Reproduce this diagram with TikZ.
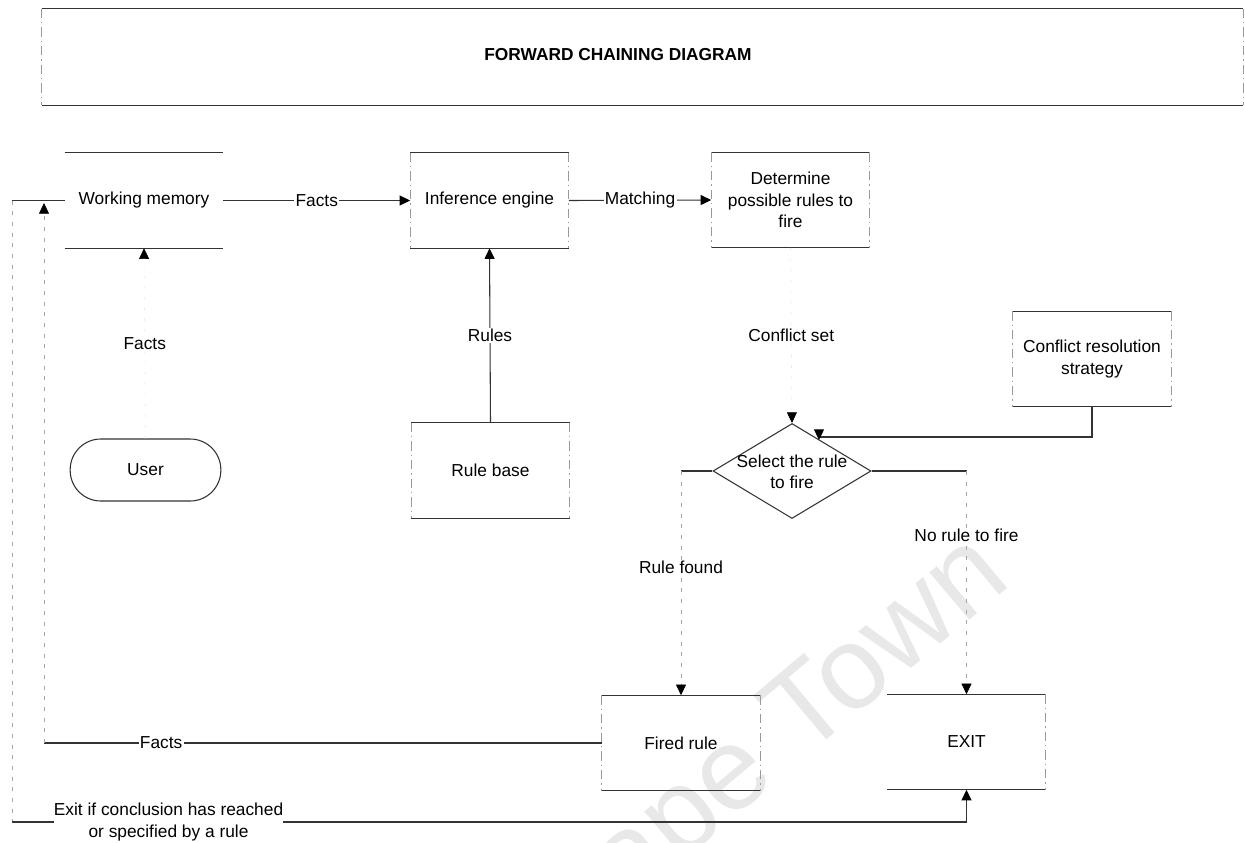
\documentclass[tikz,border=0pt]{standalone}
\usepackage{fontspec}
\setmainfont{Liberation Sans}
\usetikzlibrary{arrows.meta,shapes.geometric,calc}

% top and bottom edges of a block, and its two sides
\newcommand\blocktb[1]{\draw[edge] (#1.north west) -- (#1.north east) (#1.south west) -- (#1.south east);}
\newcommand\blocklr[1]{\draw[side] (#1.north west) -- (#1.south west) (#1.north east) -- (#1.south east);}

\begin{document}
\begin{tikzpicture}[x=0.75pt,y=-0.75pt,
  every node/.style={font=\fontsize{13}{16}\selectfont},
  blk/.style={minimum width=118.5pt, minimum height=71.25pt, inner sep=0pt, align=center},
  edge/.style={draw=black!80, line width=0.8pt},
  side/.style={draw=black!40, line width=0.6pt, dash pattern=on 7pt off 3pt on 1pt off 3pt},
  faint/.style={draw=black!35, line width=0.6pt, dash pattern=on 3pt off 5pt},
  ghost/.style={draw=black!8, line width=0.5pt, dash pattern=on 2pt off 6pt},
  tip/.style={-{Triangle[width=7.5pt,length=8pt,color=black]}},
  lbl/.style={fill=white, inner sep=1pt},
]
\useasboundingbox (0,0) rectangle (1245,842);

% background watermark
\begin{scope}
  \clip (0,0) rectangle (1245,842);
  \node[rotate=40, text=black!9, font=\fontsize{88}{88}\selectfont] (wmark) at (770,750) {Cape Town};
\end{scope}

% title frame
\node[minimum width=900.75pt, minimum height=72pt, inner sep=0pt] (tframe) at (642.5,57) {};
\blocktb{tframe}
\blocklr{tframe}
\node[font=\bfseries\fontsize{13}{16}\selectfont] (title) at (618,55) {FORWARD CHAINING DIAGRAM};

% blocks
\node[blk] (wm)    at (144,200.5) {Working memory};
\node[blk] (ie)    at (489.5,200.5) {Inference engine};
\node[blk] (det)   at (790.5,200) {Determine\\possible rules to\\fire};
\node[blk] (rb)    at (490.5,470.5) {Rule base};
\node[blk] (crs)   at (1092,359) {Conflict resolution\\strategy};
\node[blk] (fired) at (681,743) {Fired rule};
\node[blk] (exit)  at (966.5,742) {EXIT};
\node[draw=black!80, line width=0.8pt, rounded corners=23pt, minimum width=113pt,
      minimum height=46.5pt] (user) at (145.5,470) {User};
\node[diamond, draw=black!80, line width=0.8pt, minimum width=118.5pt, minimum height=71.25pt,
      inner sep=0pt] (sel) at (792,471) {};
\node[align=center, inner sep=0pt] (seltxt) at (792,472) {Select the rule\\to fire};

\blocktb{wm}
\blocktb{ie}  \blocklr{ie}
\blocktb{det} \blocklr{det}
\blocktb{rb}  \blocklr{rb}
\blocktb{crs} \blocklr{crs}
\blocktb{fired} \blocklr{fired}
\blocktb{exit}
\draw[side] (exit.north east) -- (exit.south east);

% connectors along the top row
\draw[edge,tip] (wm.east) -- node[lbl] {Facts} (ie.west);
\draw[edge,tip] (ie.east) -- node[lbl] {Matching} (det.west);
\draw[edge,tip] (rb.north) -- node[lbl] {Rules} (ie.south);
\draw[ghost,tip] (user.north) -- node[lbl] {Facts} (wm.south);
\draw[ghost,tip] (det.south) -- node[lbl] {Conflict set} (sel.north);

% conflict resolution feeds the selection
\coordinate (crsbend) at (1092,437);
\coordinate (crshit) at (819,440);
\draw[edge,tip] (crs.south) -- (crsbend) -- (crshit |- crsbend) -- (crshit);

% branches of the selection
\coordinate (lb) at (fired.north |- sel.west);
\coordinate (rbr) at (exit.north |- sel.east);
\draw[edge] (sel.west) -- (lb);
\draw[faint,tip] (lb) -- node[lbl,pos=0.43] {Rule found} (fired.north);
\draw[edge] (sel.east) -- (rbr);
\draw[faint,tip] (rbr) -- node[lbl,pos=0.29] {No rule to fire} (exit.north);

% fired rule returns facts to working memory
\coordinate (fb) at (44,743);
\coordinate (fa) at (44,203);
\draw[edge] (fired.west) -- node[lbl,pos=0.79] {Facts} (fb);
\draw[faint,tip] (fb) -- (fa);

% exit path from working memory
\coordinate (xa) at (12,200.5);
\coordinate (xb) at (12,822);
\draw[edge] (wm.west) -- (xa);
\draw[faint] (xa) -- (xb);
\draw[edge,tip] (xb) -- node[lbl,pos=0.164,align=center,inner sep=0pt] {Exit if conclusion has reached\\or specified by a rule} (exit.south |- xb) -- (exit.south);

\end{tikzpicture}
\end{document}
